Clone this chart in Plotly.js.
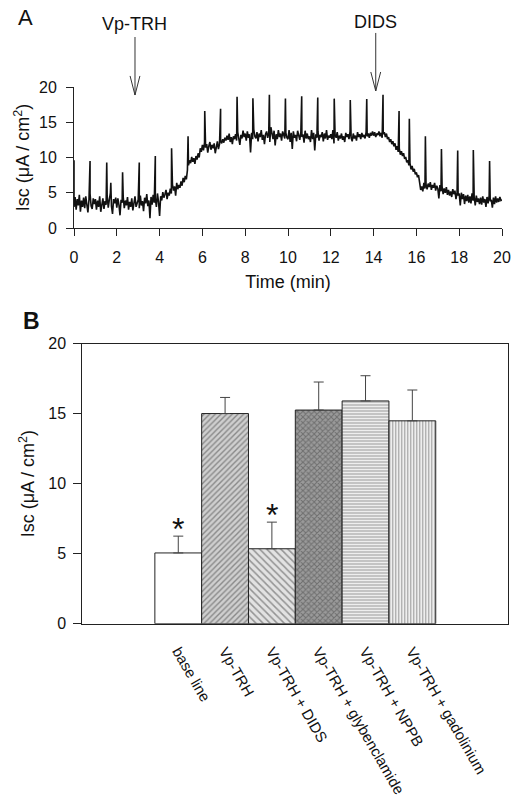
<!DOCTYPE html>
<html>
<head>
<meta charset="utf-8">
<script src="https://cdn.plot.ly/plotly-3.0.1.min.js"></script>
<style>
  html, body { margin: 0; padding: 0; background: #fff; }
  #chart { width: 519px; height: 808px; }
</style>
</head>
<body>
<div id="chart"></div>
<script>
// ---------- Panel A data ----------
// Isc trace sampled every 0.05 min (values read from the recording, µA/cm²)
const sampleStep = 0.05;
const iscTrace = [
  3.0, 4.4, 2.6, 4.1, 3.2, 4.7, 2.3, 3.9, 3.0, 4.3,
  2.8, 4.5, 3.4, 2.2, 4.0, 4.9, 3.1, 2.7, 4.2, 3.4,
  4.1, 2.6, 3.9, 3.0, 4.5, 2.3, 3.7, 4.2, 2.7, 3.8,
  3.3, 4.6, 2.9, 4.0, 5.0, 3.1, 2.0, 4.1, 3.5, 4.3,
  2.9, 4.2, 3.3, 1.8, 4.0, 3.6, 4.4, 2.8, 3.9, 3.2,
  4.4, 2.6, 3.7, 3.0, 4.2, 2.5, 3.9, 4.5, 3.0, 3.6,
  4.0, 2.8, 4.6, 3.2, 3.8, 2.4, 4.3, 3.5, 4.8, 3.1,
  3.9, 1.4, 4.4, 3.3, 4.7, 3.6, 4.2, 3.0, 4.9, 3.7,
  1.7, 4.5, 3.9, 5.1, 4.3, 4.8, 5.4, 4.1, 5.0, 4.6,
  5.6, 4.9, 6.2, 5.3, 5.9, 4.6, 6.4, 5.5, 6.1, 5.7,
  6.6, 6.0, 7.1, 6.5, 7.4, 6.9, 8.2, 8.9, 9.6, 9.2,
  10.1, 9.4, 9.9, 9.1, 10.2, 9.7, 10.6, 10.0, 11.3, 10.8,
  11.8, 11.0, 12.1, 11.4, 11.9, 10.7, 11.6, 12.2, 11.1, 11.8,
  11.3, 12.0, 10.6, 11.7, 12.3, 11.2, 11.9, 12.4, 12.0, 12.6,
  12.1, 12.8, 12.4, 13.1, 12.5, 13.4, 12.2, 12.9, 11.9, 13.0,
  12.6, 13.3, 12.4, 13.6, 12.8, 11.8, 13.2, 12.7, 13.8, 12.9,
  13.4, 12.4, 13.7, 12.8, 13.3, 10.7, 13.5, 12.6, 14.0, 13.0,
  12.7, 13.6, 12.3, 13.4, 12.9, 13.9, 12.5, 13.2, 11.9, 13.3,
  13.7, 12.8, 13.5, 12.2, 14.3, 13.0, 12.6, 13.8, 11.7, 13.3,
  12.6, 13.9, 12.9, 13.4, 12.4, 13.7, 13.0, 12.7, 13.5, 12.8,
  12.6, 13.9, 12.2, 13.5, 11.2, 13.7, 12.8, 13.2, 12.3, 13.8,
  13.1, 12.5, 13.6, 12.9, 13.3, 12.1, 13.8, 12.7, 13.4, 12.6,
  13.0, 12.2, 13.9, 12.6, 13.5, 11.0, 13.3, 12.8, 13.7, 12.4,
  13.2, 12.9, 13.6, 12.3, 13.4, 12.7, 13.9, 12.5, 13.1, 12.8,
  13.3, 12.6, 13.9, 12.0, 13.2, 12.8, 13.6, 12.4, 13.1, 12.7,
  13.4, 12.5, 13.0, 12.2, 13.5, 12.9, 13.3, 12.6, 13.7, 12.8,
  12.3, 13.4, 12.7, 13.1, 12.4, 13.6, 12.9, 13.3, 12.6, 13.5,
  12.9, 13.2, 12.7, 13.6, 13.0, 13.4, 12.8, 13.5, 13.1, 13.7,
  13.1, 13.6, 12.9, 13.4, 13.2, 13.7, 13.0, 13.5, 12.8, 13.3,
  13.6, 12.9, 13.4, 12.6, 12.9, 12.2, 12.6, 11.9, 12.3, 11.6,
  12.0, 11.1, 11.6, 10.8, 11.3, 10.4, 10.9, 10.2, 10.6, 9.8,
  10.1, 9.3, 9.6, 8.9, 9.2, 8.3, 8.8, 8.0, 8.4, 7.6,
  7.9, 7.2, 7.5, 6.6, 5.4, 5.9, 5.2, 6.4, 5.6, 6.2,
  5.5, 6.3, 5.8, 6.5, 5.4, 6.1, 5.7, 6.4, 5.3, 6.0,
  5.6, 4.2, 6.1, 5.2, 5.9, 4.8, 5.6, 5.0, 5.8, 4.7,
  5.4, 4.6, 5.2, 4.4, 5.5, 4.8, 5.3, 4.1, 5.0, 4.6,
  4.9, 3.2, 5.0, 4.1, 4.8, 3.4, 4.6, 3.8, 4.7, 3.6,
  4.5, 3.5, 4.9, 3.9, 4.4, 3.2, 4.6, 3.7, 4.2, 3.4,
  4.3, 3.3, 4.5, 3.6, 4.1, 3.0, 4.4, 3.5, 4.6, 3.8,
  4.0, 2.9, 4.3, 3.4, 4.5, 3.6, 4.2, 3.7, 4.4, 3.9,
  4.0
];
// calibration pulses (spikes): time (min) and peak (µA/cm²)
const spikeTimes = [0.0, 0.75, 1.53, 1.72, 2.27, 3.05, 3.80, 4.56, 5.33, 6.11, 6.85, 7.62, 8.36, 9.13,
  9.88, 10.64, 11.39, 12.16, 12.91, 13.68, 14.44, 15.19, 15.67, 16.42, 17.17, 17.93, 18.66, 19.42];
const spikePeaks = [9.6, 9.5, 9.3, 6.4, 7.9, 9.3, 10.2, 11.3, 13.0, 16.6, 16.9, 18.6, 18.4, 18.9,
  18.35, 18.7, 18.5, 18.35, 18.15, 18.3, 18.9, 16.6, 15.5, 13.0, 11.2, 11.0, 11.05, 9.5];
// drug additions
const eventLabels = ['Vp-TRH', 'DIDS'];
const eventTimes = [2.85, 14.1];

// ---------- Panel B data ----------
const categories = ['base line', 'Vp-TRH', 'Vp-TRH + DIDS', 'Vp-TRH + glybenclamide', 'Vp-TRH + NPPB', 'Vp-TRH + gadolinium'];
const meanIsc = [5.05, 15.0, 5.35, 15.25, 15.9, 14.48];
const semIsc = [1.2, 1.15, 1.9, 2.0, 1.8, 2.2];
const significance = ['*', '', '*', '', '', ''];

// ---------- styles ----------
const patShapes = ['', '/', '\\', 'x', '-', '|'];
const patFg = ['#ffffff', '#707070', '#8a8a8a', '#4a4a4a', '#555555', '#555555'];
const patBg = ['#ffffff', '#cfcfcf', '#e2e2e2', '#9a9a9a', '#eeeeee', '#eeeeee'];
const patSize = [4, 4, 5, 4, 3, 3];
const patSolid = [0.3, 0.35, 0.3, 0.45, 0.35, 0.35];

// build the trace with pulses merged in time order
const pts = [];
iscTrace.forEach((v, i) => pts.push({ t: +(i * sampleStep).toFixed(3), v: v, o: 1 }));
spikeTimes.forEach((t, i) => pts.push({ t: t, v: spikePeaks[i], o: 0 }));
pts.sort((a, b) => (a.t - b.t) || (a.o - b.o));

const FONT = 'Liberation Sans, Arial, sans-serif';
const catIdx = categories.map((c, i) => i);

const traces = [
  {
    type: 'scatter', mode: 'lines',
    x: pts.map(p => p.t), y: pts.map(p => p.v),
    line: { color: '#111', width: 1.6 },
    xaxis: 'x', yaxis: 'y', hoverinfo: 'skip', showlegend: false
  },
  {
    type: 'bar',
    x: catIdx, y: meanIsc, width: 1,
    xaxis: 'x2', yaxis: 'y2', showlegend: false,
    marker: {
      color: patBg,
      line: { color: '#222', width: 1 },
      pattern: { shape: patShapes, fgcolor: patFg, bgcolor: patBg, size: patSize, solidity: patSolid, fillmode: 'overlay' }
    },
    error_y: { type: 'data', symmetric: false, array: semIsc, arrayminus: semIsc.map(() => 0), color: '#444', thickness: 1, width: 5 }
  }
];

const shapes = [];
const annotations = [];
const arrowTop = [0.9542, 0.9592];
const arrowTip = [0.8824, 0.8874];
const armEnd = [0.906, 0.9109];
eventTimes.forEach((t, i) => {
  const path = `M${t},${arrowTop[i]} L${t},${arrowTip[i]} M${t - 0.23},${armEnd[i]} L${t},${arrowTip[i]} L${t + 0.23},${armEnd[i]}`;
  shapes.push({ type: 'path', xref: 'x', yref: 'paper', path: path, line: { color: '#333', width: 1 } });
  annotations.push({ xref: 'x', yref: 'paper', x: t, y: i === 0 ? 0.9703 : 0.9728, text: eventLabels[i],
    showarrow: false, xanchor: 'center', yanchor: 'middle', font: { family: FONT, size: 18, color: '#111' } });
});
significance.forEach((s, i) => {
  if (!s) return;
  annotations.push({ xref: 'x2', yref: 'y2', x: catIdx[i], y: meanIsc[i] + semIsc[i], text: s, showarrow: false,
    xanchor: 'center', yanchor: 'bottom', yshift: -13, font: { family: FONT, size: 32, color: '#111' } });
});
annotations.push({ xref: 'paper', yref: 'paper', x: 25 / 519, y: 1 - 17 / 808, text: 'A', showarrow: false,
  xanchor: 'center', yanchor: 'middle', font: { family: FONT, size: 22, color: '#111' } });
annotations.push({ xref: 'paper', yref: 'paper', x: 31 / 519, y: 1 - 321 / 808, text: '<b>B</b>', showarrow: false,
  xanchor: 'center', yanchor: 'middle', font: { family: FONT, size: 23, color: '#111' } });

const tickFont = { family: FONT, size: 16, color: '#111' };
const titleFont = { family: FONT, size: 18, color: '#111' };

const layout = {
  width: 519, height: 808,
  margin: { l: 0, r: 0, t: 0, b: 0 },
  paper_bgcolor: '#fff', plot_bgcolor: 'rgba(0,0,0,0)',
  showlegend: false,
  xaxis: {
    domain: [74 / 519, 502 / 519], anchor: 'y', range: [0, 20], tickvals: [0, 2, 4, 6, 8, 10, 12, 14, 16, 18, 20],
    showline: true, linecolor: '#222', linewidth: 1, ticks: 'outside', ticklen: 7, tickcolor: '#222',
    showgrid: false, zeroline: false, tickfont: tickFont, ticklabelstandoff: 8, automargin: false,
    title: { text: 'Time (min)', font: titleFont, standoff: 10 }
  },
  yaxis: {
    domain: [1 - 228 / 808, 1 - 87 / 808], anchor: 'x', range: [0, 20], tickvals: [0, 5, 10, 15, 20],
    showline: true, linecolor: '#222', linewidth: 1, ticks: 'outside', ticklen: 7, tickcolor: '#222',
    showgrid: false, zeroline: false, tickfont: tickFont, ticklabelstandoff: 6, automargin: false,
    title: { text: 'Isc (μA / cm<sup>2</sup>)', font: titleFont, standoff: 4 }
  },
  xaxis2: {
    domain: [82.3 / 519, 508.3 / 519], anchor: 'y2', range: [-2.05, 7.05],
    tickvals: catIdx, ticktext: categories, tickangle: 60,
    showline: true, mirror: true, linecolor: '#222', linewidth: 1, ticks: '',
    showgrid: false, zeroline: false, tickfont: { family: FONT, size: 15, color: '#111' }, ticklabelstandoff: 12, automargin: false
  },
  yaxis2: {
    domain: [1 - 623.7 / 808, 1 - 343.5 / 808], anchor: 'x2', range: [0, 20], tickvals: [0, 5, 10, 15, 20],
    showline: true, mirror: true, linecolor: '#222', linewidth: 1, ticks: 'outside', ticklen: 8, tickcolor: '#222',
    showgrid: false, zeroline: false, tickfont: tickFont, ticklabelstandoff: 4, automargin: false,
    title: { text: 'Isc (μA / cm<sup>2</sup>)', font: titleFont, standoff: 8 }
  },
  shapes: shapes,
  annotations: annotations
};

Plotly.newPlot('chart', traces, layout, { staticPlot: true, displayModeBar: false });
</script>
</body>
</html>
